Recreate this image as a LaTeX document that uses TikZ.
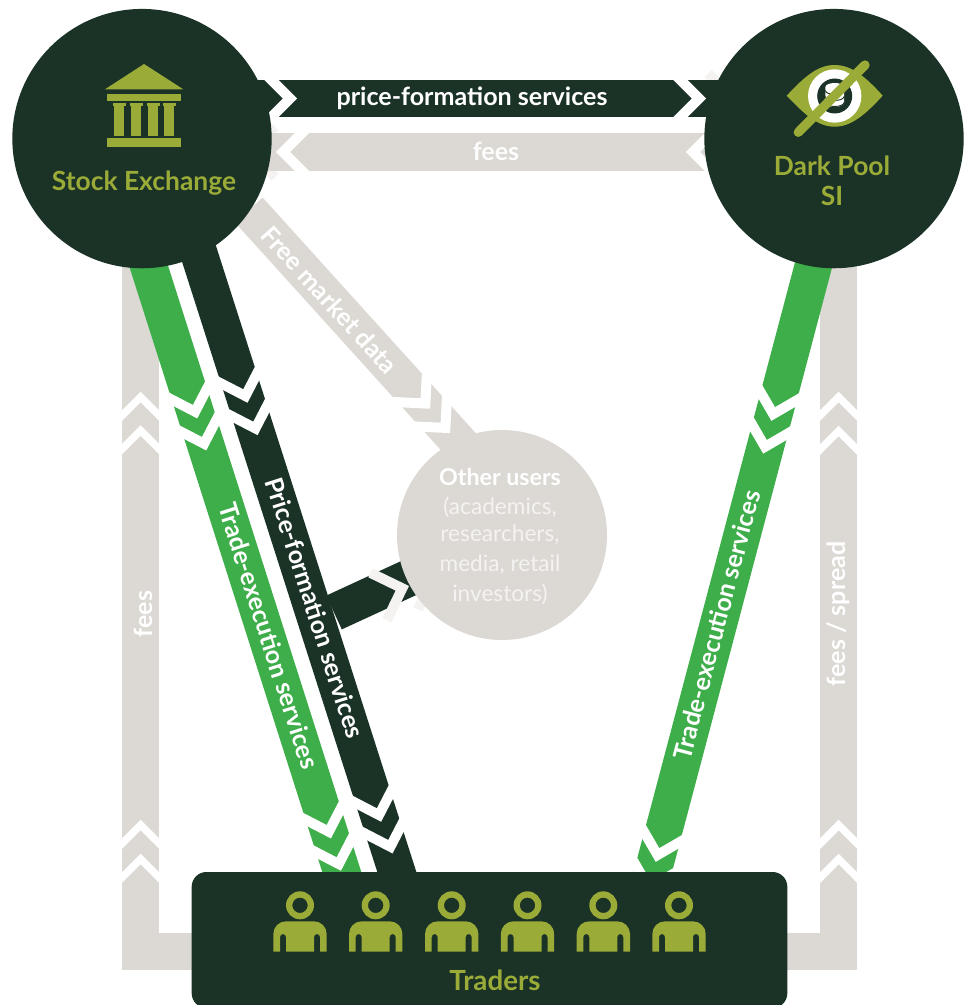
\documentclass[tikz,border=0pt]{standalone}
\usepackage{fontspec}
\setmainfont{Lato}
\usetikzlibrary{calc}
\definecolor{dk}{HTML}{1B3227}
\definecolor{grn}{HTML}{3DAE49}
\definecolor{gry}{HTML}{DCD8D4}
\definecolor{olv}{HTML}{9AAB38}
\definecolor{fnt}{HTML}{F5F3F1}
\newcommand{\chev}[5][chevwhite]{\draw[#1] ({#2-25*#4-25*#5},{#3-25*#5+25*#4}) -- (#2,#3) -- ({#2-25*#4+25*#5},{#3-25*#5-25*#4});}
\newcommand{\person}[1]{%
  \begin{scope}[shift={(#1,0)}]
    \fill[olv,even odd rule] (0,905.3) circle[radius=14] (0,905.3) circle[radius=7.7];
    \fill[olv] (-26.7,951.7) -- (-26.7,934) arc[start angle=180,end angle=270,radius=12.7] -- (14,921.3) arc[start angle=270,end angle=360,radius=12.7] -- (26.7,951.7) -- (20,951.7) -- (20,937) arc[start angle=0,end angle=-180,radius=3] -- (14,951.7) -- (-14,951.7) -- (-14,937) arc[start angle=0,end angle=-180,radius=3] -- (-20,951.7) -- cycle;
  \end{scope}}
\tikzset{
  chevwhite/.style={white,line width=7.5pt,miter limit=10,line cap=butt},
  chevthin/.style={white,line width=5.6pt,miter limit=10,line cap=butt},
  chevfaint/.style={fnt,line width=7.5pt,miter limit=10,line cap=butt},
  band/.style={line width=27.9pt,line cap=butt,line join=miter},
  hub/.style={circle,fill=dk,minimum size=194.5pt,inner sep=0pt},
  lab/.style={white,font=\bfseries\fontsize{18.8}{22}\selectfont,inner sep=0pt},
  hubtext/.style={olv,font=\bfseries\fontsize{19.8}{24}\selectfont,inner sep=0pt,align=center},
  usertext/.style={fnt,font=\fontsize{17}{22}\selectfont,inner sep=0pt}
}
\begin{document}
\begin{tikzpicture}[x=0.75pt,y=-0.75pt]
\useasboundingbox (0,0) rectangle (972,1005);
% anchor coordinates
\coordinate (seC) at (142,138.6);
\coordinate (dpC) at (834,138.6);
\coordinate (usC) at (502,535);
\coordinate (trC) at (489.5,940);
% faint hidden chevrons
\chev[chevfaint]{250}{152}{-1}{0}
\chev[chevfaint]{733}{98.5}{1}{0}
\chev[chevfaint]{433.5}{577.5}{0.945}{-0.327}
% grey L-shaped fee bands
\draw[band,gry,line width=28.05pt] (140.7,200) -- (140.7,951.5) -- (trC |- 0,951.5);
\draw[band,gry,line width=28.05pt] (838.7,200) -- (838.7,951.5) -- (trC |- 0,951.5);
\chev[chevthin]{140.7}{397}{0}{-1}
\chev[chevthin]{140.7}{430.5}{0}{-1}
\chev[chevthin]{140.7}{825}{0}{-1}
\chev[chevthin]{140.7}{859}{0}{-1}
\chev[chevthin]{838.7}{397}{0}{-1}
\chev[chevthin]{838.7}{431}{0}{-1}
\chev[chevthin]{838.7}{825}{0}{-1}
\chev[chevthin]{838.7}{859}{0}{-1}
% top bands
\draw[band,dk] (seC |- 0,98.5) -- (dpC |- 0,98.5);
\chev{290}{98.5}{1}{0}
\chev{699}{98.5}{1}{0}
\draw[band,gry] (seC |- 0,152) -- (dpC |- 0,152);
\chev{283}{152}{-1}{0}
\chev{693}{152}{-1}{0}
% free market data
\draw[band,gry] (248.8,210) -- (484,470);
\chev{425.4}{403.5}{0.672}{0.74}
\chev{445.4}{427.9}{0.672}{0.74}
% green left
\draw[band,grn] (127.6,200) -- (350.7,900);
\chev{195.1}{411.7}{0.3037}{0.9528}
\chev{204.1}{443.7}{0.3037}{0.9528}
\chev{328.8}{831.7}{0.3037}{0.9528}
\chev{338.8}{864}{0.3037}{0.9528}
% branch
\draw[band,dk] (334,612.5) -- (usC);
\chev[chevfaint]{402.3}{588.3}{0.945}{-0.327}
% dark price
\draw[band,dk] (181.8,200) -- (405.8,900);
\chev{245.4}{396}{0.3037}{0.9528}
\chev{255.4}{428.4}{0.3037}{0.9528}
\chev{379}{815}{0.3037}{0.9528}
\chev{390.4}{846.7}{0.3037}{0.9528}
% green right
\draw[band,grn] (830.7,200) -- (645.4,900);
\chev{773.2}{414}{-0.2558}{0.9667}
\chev{765}{446.8}{-0.2558}{0.9667}
\chev{657.5}{855}{-0.2558}{0.9667}
\chev{649}{888}{-0.2558}{0.9667}
% hubs
\node[hub] (se) at (seC) {};
\node[hub] (dp) at (dpC) {};
\node[circle,fill=gry,minimum size=157.5pt,inner sep=0pt] (us) at (usC) {};
\node[fill=dk,rounded corners=11pt,minimum width=446.7pt,minimum height=102pt,inner sep=0pt] (tr) at (trC) {};
% bank icon
\fill[olv] (144,64) -- (183.3,89.3) -- (105,89.3) -- cycle;
\fill[olv] (106.7,94) rectangle (181,101);
\fill[olv] (106.7,138) rectangle (181,146.7);
\foreach \cx in {119,136,153,169}{
  \fill[olv] (\cx-5,106) rectangle (\cx+5,136);
  \fill[olv] (\cx-6.5,103.3) rectangle (\cx+6.5,106.5);
}
% eye icon
\fill[olv] (786.7,95.7) .. controls (805,76) and (818,65) .. (834.7,65) .. controls (851,65) and (865,76) .. (882.7,95.7) .. controls (865,115) and (851,126.7) .. (834.7,126.7) .. controls (818,126.7) and (805,115) .. (786.7,95.7) -- cycle;
\fill[white] (834.7,96) circle[radius=26.7];
\fill[dk] (834.7,96) circle[radius=17.5];
\fill[white] (825.4,87) -- (825.4,103) arc[x radius=9.3,y radius=4,start angle=180,end angle=0] -- (844,87) arc[x radius=9.3,y radius=4,start angle=0,end angle=-180] -- cycle;
\foreach \yy in {90.5,96.5,102.5}{\draw[dk,line width=0.7pt] (825.4,\yy) arc[x radius=9.3,y radius=4,start angle=180,end angle=0];}
\draw[olv,line width=7pt,line cap=round] (798.3,132.3) -- (865,65);
% persons
\foreach \px in {300,375.7,451.7,527.5,603.3,679}{\person{\px}}
% labels
\node[hubtext] (selab) at (144,183) {Stock Exchange};
\node[hubtext] (dplab) at (832,166) {Dark Pool};
\node[hubtext] (dplab2) at (832,196) {SI};
\node[hubtext,font=\bfseries\fontsize{20.8}{24}\selectfont] (trlab) at (495,980) {Traders};
\node[lab] (l1) at (472,98) {price-formation services};
\node[lab,gry!5!white] (l2) at (496,151) {fees};
\node[lab,rotate=-47.8] (l3) at (330,300) {Free market data};
\node[lab,rotate=-72.3] (l4) at (269,636) {Trade-execution services};
\node[lab,rotate=-72.3] (l5) at (315,608) {Price-formation services};
\node[lab,rotate=75.2] (l6) at (716.5,625) {Trade-execution services};
\node[lab,rotate=90] (l7) at (143,614) {fees};
\node[lab,rotate=90] (l8) at (838,614) {fees / spread};
\node[lab,font=\bfseries\fontsize{17.4}{22}\selectfont] (u1) at (500,477) {Other users};
\node[usertext] (u2) at (500,507) {(academics,};
\node[usertext] (u3) at (500,535) {researchers,};
\node[usertext] (u4) at (500,565) {media, retail};
\node[usertext] (u5) at (500,594) {investors)};
\end{tikzpicture}
\end{document}
